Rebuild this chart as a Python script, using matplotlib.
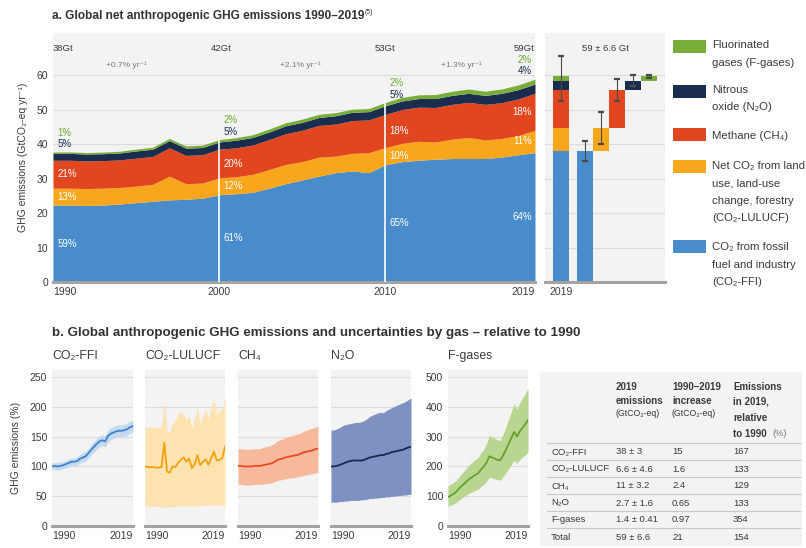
import numpy as np
import matplotlib
matplotlib.use('Agg')
import matplotlib.pyplot as plt
from matplotlib.patches import Rectangle

plt.rcParams['font.family'] = ['Liberation Sans Narrow', 'Liberation Sans', 'DejaVu Sans']

# ---- data -------------------------------------------------------------
years = np.arange(1990, 2020)

# panel a: emissions by gas, GtCO2-eq per year
ffi = [22.3, 22.3, 22.2, 22.3, 22.6, 23.0, 23.4, 23.8, 24.0, 24.3,
       25.3, 25.6, 26.0, 27.2, 28.5, 29.6, 30.7, 31.7, 32.2, 31.7,
       34.0, 34.9, 35.3, 35.6, 35.8, 35.8, 35.8, 36.2, 36.9, 37.5]
lulucf = [4.9, 4.9, 4.9, 4.9, 4.8, 4.8, 4.9, 6.9, 4.5, 4.4,
          4.9, 4.9, 5.2, 5.4, 5.6, 5.3, 5.5, 4.8, 5.1, 5.8,
          5.0, 5.3, 5.5, 5.0, 5.6, 6.1, 5.4, 5.4, 5.6, 6.5]
ch4 = [8.1, 8.1, 8.0, 8.0, 8.0, 8.1, 8.1, 8.2, 8.2, 8.2,
       8.3, 8.4, 8.5, 8.7, 8.9, 9.1, 9.2, 9.3, 9.5, 9.5,
       9.6, 9.8, 9.9, 10.0, 10.1, 10.2, 10.3, 10.4, 10.6, 10.7]
n2o = [2.0, 2.0, 2.0, 2.0, 2.0, 2.1, 2.1, 2.1, 2.1, 2.1,
       2.1, 2.2, 2.2, 2.2, 2.3, 2.3, 2.3, 2.4, 2.4, 2.4,
       2.5, 2.5, 2.5, 2.6, 2.6, 2.6, 2.6, 2.7, 2.7, 2.7]
fgas = [0.40, 0.42, 0.43, 0.46, 0.50, 0.54, 0.58, 0.62, 0.64, 0.68,
        0.70, 0.74, 0.78, 0.84, 0.89, 0.94, 0.92, 0.90, 0.90, 0.89,
        0.96, 1.02, 1.08, 1.14, 1.20, 1.25, 1.22, 1.28, 1.36, 1.42]

mark_years = [1990, 2000, 2010, 2019]
mark_totals = ['38Gt', '42Gt', '53Gt', '59Gt']
growth_labels = ['+0.7% yr⁻¹', '+2.1% yr⁻¹', '+1.3% yr⁻¹']
share_ffi = [59, 61, 65, 64]
share_lulucf = [13, 12, 10, 11]
share_ch4 = [21, 20, 18, 18]
share_n2o = [5, 5, 5, 4]
share_f = [1, 2, 2, 2]

# 2019 totals and uncertainty
gas_short = ['CO₂-FFI', 'CO₂-LULUCF', 'CH₄', 'N₂O', 'F-gases']
val_2019 = [38, 6.6, 11, 2.7, 1.4]
unc_2019 = [3, 4.6, 3.2, 1.6, 0.41]
total_2019 = 59
total_unc = 6.6
increase = ['15', '1.6', '2.4', '0.65', '0.97']
rel_2019 = ['167', '133', '129', '133', '354']

# panel b: relative to 1990 (%), central line and uncertainty band
ffi_rel = [100, 101, 100, 101, 102, 104, 106, 108, 108, 109,
           113, 115, 117, 122, 128, 133, 138, 142, 144, 142,
           151, 155, 157, 159, 160, 160, 161, 163, 166, 168]
ffi_lo = [94, 95, 94, 95, 96, 97, 99, 101, 101, 102,
          106, 107, 109, 114, 119, 124, 129, 133, 135, 133,
          141, 145, 147, 149, 150, 150, 151, 153, 156, 158]
ffi_hi = [106, 107, 106, 107, 108, 110, 112, 114, 114, 116,
          120, 123, 125, 130, 136, 142, 147, 151, 153, 151,
          161, 165, 167, 169, 170, 170, 171, 173, 176, 178]

lulucf_rel = [100, 99, 99, 99, 98, 98, 99, 140, 91, 90,
              100, 99, 106, 111, 115, 108, 113, 97, 104, 119,
              102, 108, 112, 103, 114, 125, 110, 111, 114, 133]
lulucf_lo = [33, 33, 33, 33, 33, 33, 33, 30, 32, 32,
             33, 33, 34, 34, 34, 34, 34, 33, 34, 35,
             34, 34, 35, 34, 35, 36, 35, 35, 35, 36]
lulucf_hi = [167, 166, 166, 166, 165, 165, 166, 210, 160, 158,
             172, 178, 188, 192, 186, 178, 186, 165, 180, 198,
             172, 186, 196, 180, 200, 212, 188, 192, 196, 217]

ch4_rel = [101, 101, 100, 100, 100, 100, 101, 101, 101, 102,
           103, 104, 105, 107, 110, 112, 113, 115, 116, 117,
           118, 119, 120, 122, 124, 125, 126, 127, 129, 130]
ch4_lo = [70, 70, 69, 69, 69, 69, 70, 70, 70, 70,
          71, 72, 72, 74, 76, 77, 78, 79, 80, 81,
          81, 82, 83, 84, 85, 86, 87, 88, 89, 90]
ch4_hi = [130, 130, 129, 129, 129, 129, 130, 130, 130, 132,
          133, 134, 136, 138, 142, 145, 146, 148, 150, 151,
          152, 154, 155, 157, 160, 161, 163, 164, 166, 168]

n2o_rel = [100, 100, 101, 102, 104, 106, 108, 109, 110, 110,
           110, 110, 111, 113, 115, 116, 117, 118, 119, 119,
           121, 122, 124, 125, 126, 127, 128, 130, 132, 133]
n2o_lo = [40, 40, 40, 41, 41, 42, 42, 43, 43, 43,
          43, 44, 44, 45, 46, 46, 47, 47, 48, 48,
          49, 49, 50, 50, 51, 51, 52, 52, 53, 53]
n2o_hi = [161, 161, 163, 165, 168, 170, 171, 172, 173, 174,
          174, 175, 177, 180, 184, 186, 188, 190, 191, 190,
          194, 196, 199, 201, 203, 205, 207, 209, 212, 215]

f_rel = [97, 102, 108, 115, 126, 135, 143, 152, 160, 166,
         172, 178, 190, 200, 214, 234, 230, 226, 222, 221,
         238, 256, 276, 296, 316, 300, 318, 330, 342, 356]
f_lo = [66, 70, 74, 79, 87, 94, 100, 106, 112, 116,
        120, 124, 133, 140, 150, 164, 161, 158, 155, 155,
        167, 179, 193, 207, 221, 210, 223, 231, 239, 249]
f_hi = [135, 140, 146, 153, 165, 176, 186, 198, 208, 216,
        224, 231, 246, 259, 277, 304, 299, 294, 289, 287,
        309, 333, 359, 385, 411, 392, 414, 429, 445, 462]

# ---- styles -----------------------------------------------------------
c_ffi = '#488ccc'
c_lulucf = '#f8a61c'
c_ch4 = '#e2461f'
c_n2o = '#1b2d4f'
c_f = '#79ad3a'
bg = '#f3f3f3'
grid_c = '#dcdcdc'
txt = '#3a3a3a'

W, H = 806, 548
fig = plt.figure(figsize=(W / 100, H / 100), dpi=100)


def fx(px):
    return px / W


def fy(py):
    return 1 - py / H


def ax_rect(x0, y0, x1, y1):
    return [fx(x0), fy(y1), (x1 - x0) / W, (y1 - y0) / H]


def style_axes(ax, yt):
    ax.set_facecolor(bg)
    for s in ['top', 'right', 'left']:
        ax.spines[s].set_visible(False)
    ax.spines['bottom'].set_color('#a3a3a3')
    ax.spines['bottom'].set_linewidth(2.2)
    ax.set_yticks(yt)
    for v in yt[1:]:
        ax.axhline(v, color=grid_c, lw=0.8, zorder=0.5)
    ax.tick_params(length=0, colors=txt, labelsize=7.5)


# ---- panel a: stacked area -------------------------------------------
fig.text(fx(52), fy(16), 'a. Global net anthropogenic GHG emissions 1990–2019',
         fontsize=8.6, fontweight='bold', color='#333333', va='center')
fig.text(fx(365), fy(12), '(5)', fontsize=5, color='#333333', va='center')

ax = fig.add_axes(ax_rect(53, 33, 535, 282))
style_axes(ax, [0, 10, 20, 30, 40, 50, 60])
ax.set_xlim(1990, 2019)
ax.set_ylim(0, 72.2)

layers = [ffi, lulucf, ch4, n2o, fgas]
colors = [c_ffi, c_lulucf, c_ch4, c_n2o, c_f]
base = np.zeros(len(years))
tops = []
for vals, col in zip(layers, colors):
    top = base + np.array(vals)
    ax.fill_between(years, base, top, color=col, lw=0, zorder=2)
    tops.append(top)
    base = top
total = base

ax.set_xticks(mark_years)
ax.set_xticklabels([str(y) for y in mark_years])
xl = ax.get_xticklabels()
xl[0].set_ha('left')
xl[-1].set_ha('right')
ax.set_ylabel('GHG emissions (GtCO₂-eq yr⁻¹)', fontsize=7.5, color=txt, labelpad=6)

for yr in [2000, 2010]:
    i = yr - 1990
    ax.plot([yr, yr], [0, total[i] + 0.3], color='white', lw=1.2, zorder=3)

# milestone totals and growth rates
for k, yr in enumerate(mark_years):
    ha = 'left' if k == 0 else ('right' if k == 3 else 'center')
    ax.text(yr + (0.1 if k == 1 else 0), 67.8, mark_totals[k], fontsize=6.8,
            color=txt, ha=ha, va='center')
for k, lab in enumerate(growth_labels):
    xm = [1994.4, 2004.9, 2014.6][k]
    ax.text(xm, 62.9, lab, fontsize=6, color='#7a7a7a', ha='center', va='center')

# share labels
for k, yr in enumerate(mark_years):
    i = yr - 1990
    if k < 3:
        xt, ha = yr + 0.25, 'left'
    else:
        xt, ha = yr - 0.2, 'right'
    ax.text(xt, tops[0][i] / 2, f'{share_ffi[k]}%', color='white', fontsize=7,
            ha=ha, va='center', zorder=4)
    ax.text(xt, (tops[0][i] + tops[1][i]) / 2, f'{share_lulucf[k]}%', color='white',
            fontsize=7, ha=ha, va='center', zorder=4)
    ax.text(xt, (tops[1][i] + tops[2][i]) / 2, f'{share_ch4[k]}%', color='white',
            fontsize=7, ha=ha, va='center', zorder=4)
    ax.text(xt, total[i] + 2.3, f'{share_n2o[k]}%', color=c_n2o,
            fontsize=7, ha=ha, va='center', zorder=4)
    ax.text(xt, total[i] + 5.6, f'{share_f[k]}%', color='#6aab2e',
            fontsize=7, ha=ha, va='center', zorder=4)

# ---- panel a: 2019 bars ----------------------------------------------
axb = fig.add_axes(ax_rect(545, 33, 665, 282))
style_axes(axb, [0, 10, 20, 30, 40, 50, 60])
axb.set_xlim(-1, 6.5)
axb.set_ylim(0, 72.2)
axb.set_yticklabels([])
axb.set_xticks([0])
axb.set_xticklabels(['2019'])

gas_colors = [c_ffi, c_lulucf, c_ch4, c_n2o, c_f]
bottom = 0
for v, col in zip(val_2019, gas_colors):
    axb.bar(0, v, bottom=bottom, width=1, color=col, lw=0, zorder=2)
    bottom += v
ekw = dict(fmt='none', ecolor='#4a4a4a', elinewidth=0.8, capsize=2.5,
           capthick=1.6, zorder=4)
axb.errorbar(0, total_2019, yerr=total_unc, **ekw)

start = 0
for k, (v, u, col) in enumerate(zip(val_2019, unc_2019, gas_colors)):
    xpos = 1.5 + k
    axb.bar(xpos, v, bottom=start, width=1, color=col, lw=0, zorder=2)
    axb.errorbar(xpos, start + v, yerr=u, **ekw)
    start += v

axb.text(2.75, 67.8, f'{total_2019} ± {total_unc} Gt', fontsize=6.8, color=txt,
         ha='center', va='center')

# ---- legend ----------------------------------------------------------
legend_items = [
    (c_f, 40, 45, ['Fluorinated', 'gases (F-gases)']),
    (c_n2o, 85, 90, ['Nitrous', 'oxide (N₂O)']),
    (c_ch4, 128, 136, ['Methane (CH₄)']),
    (c_lulucf, 160, 166, ['Net CO₂ from land', 'use, land-use', 'change, forestry',
                          '(CO₂-LULUCF)']),
    (c_ffi, 240, 247, ['CO₂ from fossil', 'fuel and industry', '(CO₂-FFI)']),
]
for col, ytop, ytxt, lines in legend_items:
    fig.patches.append(Rectangle((fx(673), fy(ytop + 13)), 33 / W, 13 / H,
                                 transform=fig.transFigure, color=col, lw=0))
    for j, s in enumerate(lines):
        fig.text(fx(712), fy(ytxt + 17.5 * j), s, fontsize=8.2, color=txt,
                 va='center', ha='left')

# ---- panel b ---------------------------------------------------------
fig.text(fx(52), fy(333), 'b. Global anthropogenic GHG emissions and uncertainties by gas – relative to 1990',
         fontsize=9.6, fontweight='bold', color='#333333', va='center')

small = [
    (52, 133, ffi_rel, ffi_lo, ffi_hi, '#3f83c9', '#c3d9f0', 250),
    (145, 225, lulucf_rel, lulucf_lo, lulucf_hi, '#f3a20f', '#fde3b0', 250),
    (238, 318, ch4_rel, ch4_lo, ch4_hi, '#e84a22', '#f7b99b', 250),
    (331, 411, n2o_rel, n2o_lo, n2o_hi, '#1a2a4c', '#7f90c2', 250),
    (448, 528, f_rel, f_lo, f_hi, '#67a02c', '#b9d690', 500),
]
for k, (x0, x1, line, lo, hi, lc, bc, ymax) in enumerate(small):
    a = fig.add_axes(ax_rect(x0, 370, x1, 526))
    yt = list(range(0, ymax + 1, ymax // 5))
    style_axes(a, yt)
    a.set_xlim(1990, 2019)
    a.set_ylim(0, ymax * 1.048)
    a.fill_between(years, lo, hi, color=bc, lw=0, zorder=2)
    a.plot(years, line, color=lc, lw=1.3, zorder=3)
    a.set_xticks([1990, 2019])
    a.set_xticklabels(['1990', '2019'])
    tl = a.get_xticklabels()
    tl[0].set_ha('left')
    tl[1].set_ha('right')
    if k not in (0, 4):
        a.set_yticklabels([])
    if k == 0:
        a.set_ylabel('GHG emissions (%)', fontsize=7.5, color=txt, labelpad=6)
    fig.text(fx(x0), fy(356), gas_short[k], fontsize=8.8, color=txt, va='center')

# ---- table -----------------------------------------------------------
fig.patches.append(Rectangle((fx(540), fy(546)), 262 / W, 174 / H,
                             transform=fig.transFigure, color=bg, lw=0, zorder=0))
col_x = [551, 616, 672, 733]
hdr_bold = [(col_x[1], 387, '2019'), (col_x[1], 401, 'emissions'),
            (col_x[2], 387, '1990–2019'), (col_x[2], 401, 'increase'),
            (col_x[3], 387, 'Emissions'), (col_x[3], 402, 'in 2019,'),
            (col_x[3], 418, 'relative'), (col_x[3], 434, 'to 1990')]
for x, y, s in hdr_bold:
    fig.text(fx(x), fy(y), s, fontsize=7, fontweight='bold', color=txt, va='center')
for x in col_x[1:3]:
    fig.text(fx(x), fy(414), '(GtCO₂-eq)', fontsize=6.3, color=txt, va='center')
fig.text(fx(772), fy(434), '(%)', fontsize=6.6, color='#777777', va='center')

row_y = [452, 469, 486, 503, 520, 537]
rows = [[gas_short[k], f'{val_2019[k]} ± {unc_2019[k]}', increase[k], rel_2019[k]]
        for k in range(5)]
rows.append(['Total', f'{total_2019} ± {total_unc}', '21', '154'])
for ry, row in zip(row_y, rows):
    for x, s in zip(col_x, row):
        fig.text(fx(x), fy(ry), s, fontsize=6.8, color=txt, va='center')
for ly in [443, 460, 477, 494, 511, 528]:
    fig.add_artist(plt.Line2D([fx(547), fx(800)], [fy(ly), fy(ly)],
                              transform=fig.transFigure, color='#c9c9c9', lw=0.8))

fig.savefig('out.png', dpi=100, facecolor='white')
